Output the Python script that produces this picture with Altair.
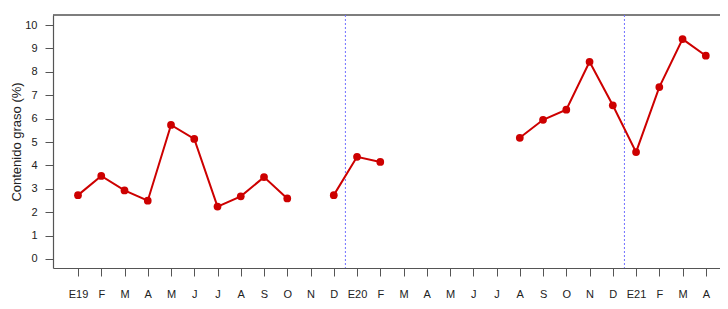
import json
import altair as alt
import pandas as pd

months = ["E19", "F", "M", "A", "M", "J", "J", "A", "S", "O", "N", "D",
          "E20", "F", "M", "A", "M", "J", "J", "A", "S", "O", "N", "D",
          "E21", "F", "M", "A"]
fat = [2.73, 3.55, 2.93, 2.49, 5.73, 5.13, 2.24, 2.68, 3.50, 2.59, None, 2.73,
       4.37, 4.15, None, None, None, None, None, 5.18, 5.95, 6.38, 8.43, 6.57,
       4.57, 7.35, 9.40, 8.69]
year_breaks = [11.5, 23.5]
y_ticks = list(range(0, 11))

# build table (break line at missing months)
rows = []
seg = 0
prev_missing = False
for i, (m, v) in enumerate(zip(months, fat)):
    if v is None:
        prev_missing = True
        continue
    if prev_missing:
        seg += 1
        prev_missing = False
    rows.append({"idx": i, "mes": m, "fat": v, "seg": seg})
df = pd.DataFrame(rows)
breaks_df = pd.DataFrame({"pos": year_breaks})

RED = "#CD0000"
GREY = "#555555"
FONT = "Liberation Sans"

x_scale = alt.Scale(domain=[-1.075, 27.61], nice=False, zero=False)
y_scale = alt.Scale(domain=[-0.385, 10.43], nice=False, zero=False)

x_axis = alt.Axis(
    values=list(range(len(months))),
    labelExpr=json.dumps(months) + "[datum.value]",
    grid=False, domain=True, domainColor=GREY, domainWidth=1.2,
    tickColor=GREY, tickSize=8, tickWidth=1,
    labelPadding=18, labelBaseline="middle", labelAlign="center",
    labelFont=FONT, labelFontSize=11, labelColor="#222222",
    labelOverlap=False, labelFlush=False, labelBound=False,
    title="Meses", titleFont=FONT, titleFontSize=13, titleFontWeight="normal",
    titleColor="#222222", titleY=41, titleBaseline="middle",
)
y_axis = alt.Axis(
    values=y_ticks, grid=False, domain=True, domainColor=GREY, domainWidth=1.2,
    tickColor=GREY, tickSize=8, tickWidth=1,
    labelPadding=8, labelFont=FONT, labelFontSize=11, labelColor="#222222",
    labelOverlap=False, labelFlush=False,
    title="Contenido graso (%)", titleFont=FONT, titleFontSize=13,
    titleFontWeight="normal", titleColor="#222222",
    titleX=-37, titleY=126.5, titleAngle=-90, titleAlign="center",
    titleBaseline="middle",
)

# top edge of the plot box (the right edge lies outside the picture)
top_edge = alt.Chart(breaks_df).mark_rule(
    color=GREY, strokeWidth=1.2
).encode(y=alt.value(0))

rules = alt.Chart(breaks_df).mark_rule(
    color="#7070FF", strokeDash=[2, 2], strokeWidth=1
).encode(x=alt.X("pos:Q", scale=x_scale, axis=x_axis))

line = alt.Chart(df).mark_line(color=RED, strokeWidth=2).encode(
    x=alt.X("idx:Q", scale=x_scale, axis=x_axis),
    y=alt.Y("fat:Q", scale=y_scale, axis=y_axis),
    detail="seg:N",
)

points = alt.Chart(df).mark_point(
    filled=True, color=RED, size=60, opacity=1
).encode(
    x=alt.X("idx:Q", scale=x_scale, axis=x_axis),
    y=alt.Y("fat:Q", scale=y_scale, axis=y_axis),
)

chart = alt.layer(top_edge, rules, line, points).properties(
    width=667, height=253,
    autosize=alt.AutoSizeParams(type="none"),
    padding={"left": 45, "top": 7, "right": 0, "bottom": 33},
    background="white",
).configure_view(strokeOpacity=0)

chart.save("out.html", embed_options={"renderer": "svg", "actions": False})
